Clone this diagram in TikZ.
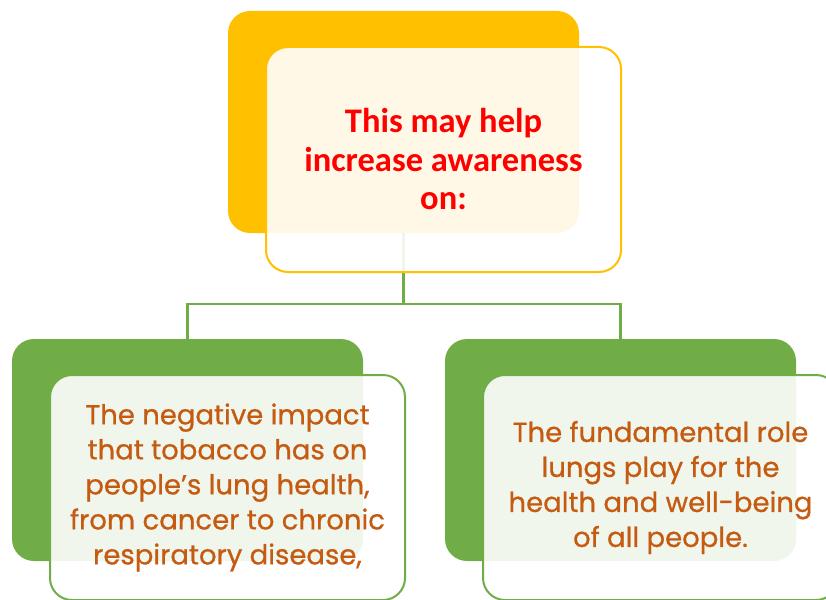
\documentclass[tikz,border=0pt]{standalone}
\usepackage{fontspec}
\setmainfont{Carlito}
\newfontfamily\orangefont[FakeBold=0.7]{Poppins}
\definecolor{goldy}{HTML}{FFC000}
\definecolor{leafy}{HTML}{70AD47}
\definecolor{redtxt}{HTML}{FF0000}
\definecolor{orangetxt}{HTML}{C55A11}
\begin{document}
\begin{tikzpicture}[x=1pt,y=-1pt,
  backbox/.style={rectangle,rounded corners=22pt,minimum width=351pt,minimum height=222pt,inner sep=0pt,draw=none},
  frontbox/.style={rectangle,rounded corners=22pt,minimum width=355pt,minimum height=225pt,inner sep=0pt,fill=white,fill opacity=0.9,text opacity=1,line width=2pt,align=center},
  redtext/.style={font=\bfseries\fontsize{34.5}{38.5}\selectfont,text=redtxt},
  orangetext/.style={font=\orangefont\fontsize{27.5}{35}\selectfont,text=orangetxt},
  conn/.style={draw=leafy,line width=2.5pt}]
\useasboundingbox (0,0) rectangle (826,599);
\node[backbox,fill=goldy] (topback) at (403.5,122) {};
\node[backbox,fill=leafy] (leftback) at (187.5,450) {};
\node[backbox,fill=leafy] (rightback) at (620.5,450) {};
\coordinate (mid) at (403.5,304);
\draw[conn] (topback.south) -- (mid) -| (leftback.north);
\draw[conn] (mid) -| (rightback.north);
\node[frontbox,draw=goldy,redtext] (topfront) at (443.5,159.5) {This may help\\increase awareness\\on:};
\node[frontbox,draw=leafy,orangetext] (leftfront) at (227.5,487.5) {The negative impact\\that tobacco has on\\people’s lung health,\\from cancer to chronic\\respiratory disease,};
\node[frontbox,draw=leafy,orangetext] (rightfront) at (660.5,487.5) {The fundamental role\\lungs play for the\\health and well-being\\of all people.};
\end{tikzpicture}
\end{document}
